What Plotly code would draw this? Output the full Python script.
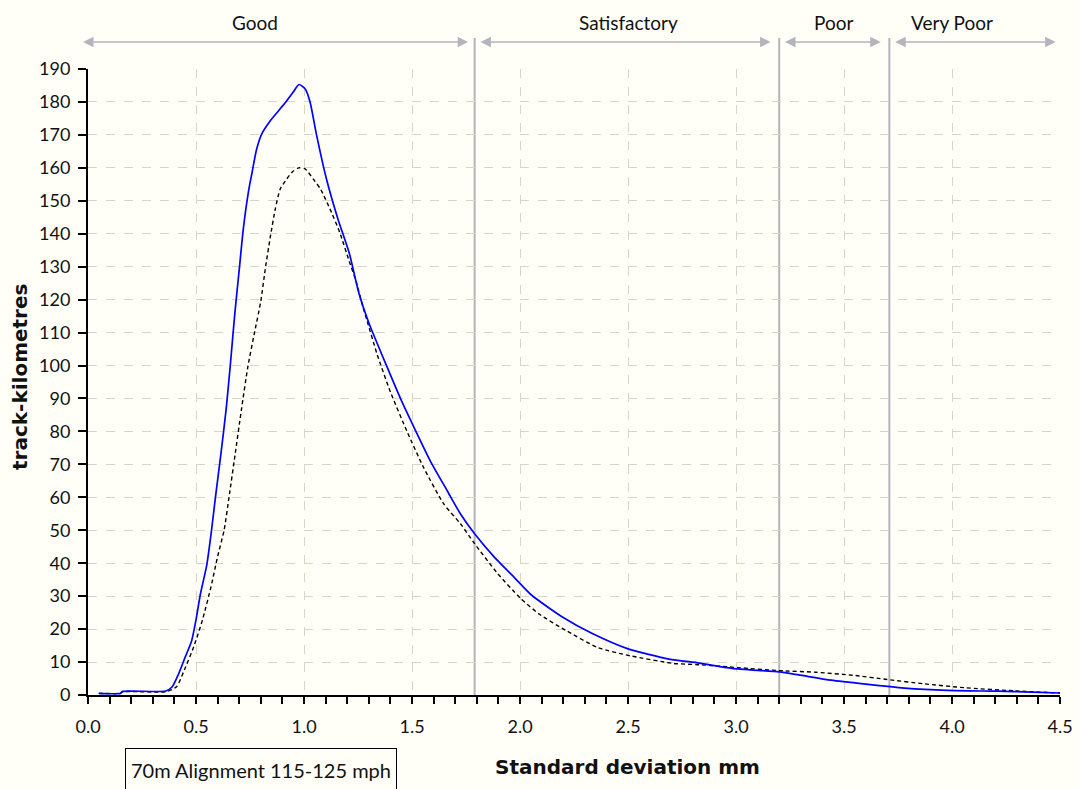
import plotly.graph_objects as go

# Track-kilometre distribution by standard deviation (mm), two survey runs
sd_current = [0.05, 0.15, 0.16, 0.36, 0.39, 0.42, 0.45, 0.48, 0.50, 0.52, 0.55, 0.57,
              0.59, 0.615, 0.64, 0.66, 0.68, 0.70, 0.72, 0.745, 0.76, 0.78, 0.805,
              0.845, 0.91, 0.95, 0.977, 1.005, 1.028, 1.058, 1.104, 1.157, 1.21,
              1.254, 1.30, 1.385, 1.45, 1.50, 1.585, 1.663, 1.724, 1.789, 1.879, 1.972,
              2.05, 2.20, 2.33, 2.50, 2.69, 2.83, 2.98, 3.20, 3.29, 3.44, 3.60, 3.78,
              3.98, 4.21, 4.37, 4.50]
km_current = [0.5, 0.5, 1.1, 1.2, 2.5, 6.5, 11.5, 16.5, 22.8, 30.5, 39.5, 49,
              60, 73, 87, 101, 116, 129, 142, 153.6, 158.7, 165.5, 170.4,
              174.4, 179.5, 183, 185.3, 184, 180, 170, 156.6, 144.5, 134,
              122, 113, 99.5, 89.5, 82.5, 71, 62, 55, 49, 42, 35.8,
              30.5, 23.5, 18.8, 14, 10.9, 9.7, 8.1, 7.0, 6.1, 4.5, 3.3, 2.1,
              1.4, 1.15, 0.9, 0.6]

sd_previous = [0.05, 0.15, 0.16, 0.36, 0.41, 0.446, 0.49, 0.53, 0.57, 0.60, 0.63,
               0.655, 0.68, 0.71, 0.74, 0.77, 0.80, 0.82, 0.845, 0.867, 0.89, 0.92,
               0.945, 0.975, 1.005, 1.043, 1.077, 1.127, 1.165, 1.21, 1.24, 1.272,
               1.292, 1.338, 1.40, 1.477, 1.554, 1.647, 1.724, 1.789, 1.895,
               2.0, 2.09, 2.215, 2.36, 2.51, 2.71, 2.83, 3.01, 3.20, 3.37, 3.54,
               3.70, 3.87, 4.06, 4.29, 4.50]
km_previous = [0.5, 0.5, 1.0, 1.0, 2.5, 7.6, 14.7, 22.8, 33, 42, 50,
               61, 72.5, 86.5, 99.6, 109.7, 119.5, 129, 139.4, 147.5, 153.6, 156.6,
               158.7, 160, 159.7, 156.6, 153.5, 146.5, 140.5, 131.5, 125.8, 118,
               113.6, 103.5, 92, 80, 69, 58, 52, 46, 37,
               29.5, 24.5, 19.5, 14.4, 11.9, 9.6, 9.2, 8.3, 7.4, 6.9, 6.0,
               4.7, 3.4, 2.2, 1.25, 0.6]

# Quality bands along the SD axis
band_names = ["Good", "Satisfactory", "Poor", "Very Poor"]
band_start = [-0.03, 1.81, 3.22, 3.73]
band_end = [1.76, 3.16, 3.67, 4.48]
band_label_x = [0.774, 2.50, 3.45, 4.00]
band_limits = [1.79, 3.20, 3.71]

chart_note = "70m Alignment 115-125 mph"

FONT = "Lato, 'Open Sans', sans-serif"
TITLE_FONT = "'DejaVu Sans', Verdana, sans-serif"
BG = "#fffff7"
GRID = "#d8d5c4"
BAND = "#b4b4bc"

PLOT_L, PLOT_R, PLOT_T, PLOT_B = 88, 19, 69, 94
PLOT_W = 1079 - PLOT_L - PLOT_R
PLOT_H = 789 - PLOT_T - PLOT_B


def px_x(px):
    return (px - PLOT_L) / PLOT_W


def px_y(py):
    return (789 - PLOT_B - py) / PLOT_H


fig = go.Figure()

fig.add_trace(go.Scatter(
    x=sd_previous, y=km_previous, mode="lines",
    line=dict(color="#000000", width=1.4, dash="4px,3px", shape="spline", smoothing=0.6),
    showlegend=False, hoverinfo="skip"))
fig.add_trace(go.Scatter(
    x=sd_current, y=km_current, mode="lines",
    line=dict(color="#0000ff", width=1.7, shape="spline", smoothing=0.6),
    showlegend=False, hoverinfo="skip"))

# Band boundaries
for xb in band_limits:
    fig.add_shape(type="line", xref="x", yref="paper", x0=xb, x1=xb, y0=0, y1=px_y(38),
                  line=dict(color=BAND, width=2), layer="below")

# Double-headed band arrows and their labels
for name, x0, x1, xc in zip(band_names, band_start, band_end, band_label_x):
    fig.add_annotation(x=x1, y=px_y(42), xref="x", yref="paper",
                       ax=x0, ay=0, axref="x", ayref="pixel",
                       text="", showarrow=True, arrowside="end+start",
                       arrowhead=2, arrowsize=1.4, arrowwidth=1.5,
                       arrowcolor=BAND, standoff=0, startstandoff=0)
    fig.add_annotation(x=xc, y=px_y(22), xref="x", yref="paper", text=name,
                       showarrow=False, font=dict(family=FONT, size=19, color="#111"),
                       yanchor="middle")

# Axis titles
fig.add_annotation(x=px_x(627), y=px_y(767), xref="paper", yref="paper",
                   text="<b>Standard deviation mm</b>", xanchor="center", yanchor="middle",
                   showarrow=False, font=dict(family=TITLE_FONT, size=20, color="#111"))
fig.add_annotation(x=px_x(20), y=px_y(377), xref="paper", yref="paper",
                   text="<b>track-kilometres</b>", xanchor="center", yanchor="middle",
                   textangle=-90, showarrow=False,
                   font=dict(family=TITLE_FONT, size=20, color="#111"))

# Note box under the axis
fig.add_annotation(x=px_x(125), y=px_y(748), xref="paper", yref="paper", text=chart_note,
                   showarrow=False, xanchor="left", yanchor="top", width=270, height=42,
                   bordercolor="#000", borderwidth=1, borderpad=0, bgcolor=BG,
                   font=dict(family=FONT, size=20, color="#111"))

fig.update_layout(
    width=1079, height=789,
    margin=dict(l=PLOT_L, r=PLOT_R, t=PLOT_T, b=PLOT_B),
    paper_bgcolor=BG, plot_bgcolor=BG,
    font=dict(family=FONT, size=18, color="#111"),
    xaxis=dict(range=[0, 4.5], dtick=0.5, tick0=0, tickformat=".1f",
               showline=True, linecolor="#000", linewidth=2, automargin=False,
               ticks="outside", ticklen=7, tickwidth=1.5, tickcolor="#000",
               minor=dict(dtick=0.1, ticks="outside", ticklen=7, tickwidth=1.5,
                          tickcolor="#000", showgrid=False),
               showgrid=True, gridcolor=GRID, griddash="dash", gridwidth=1,
               zeroline=False, ticklabelstandoff=7,
               tickfont=dict(family=FONT, size=18, color="#111")),
    yaxis=dict(range=[0, 190], dtick=10, tick0=0, automargin=False,
               showline=True, linecolor="#000", linewidth=2,
               ticks="outside", ticklen=8, tickwidth=1.5, tickcolor="#000",
               showgrid=True, gridcolor=GRID, griddash="dash", gridwidth=1,
               zeroline=False, ticklabelstandoff=4,
               tickfont=dict(family=FONT, size=18, color="#111")),
)

fig.write_html("out.html")
